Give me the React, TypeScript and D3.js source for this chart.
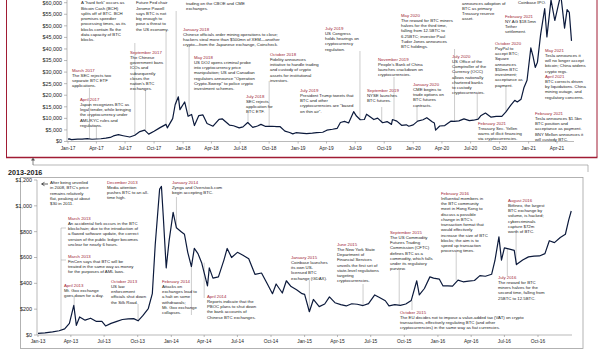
import React from 'react';
import * as d3 from 'd3';

const FONT = '"Liberation Sans", Arial, Helvetica, sans-serif';
const RED = '#a11c34';
const INK = '#1b1b1b';
const AXIS = '#8c8c8c';
const PRICE = '#0c1a3c';

// ---- 2017-2021 panel: BTC price (USD) ----
const topDates = [
  '2017-01-01','2017-01-05','2017-01-12','2017-02-01','2017-02-15','2017-03-03','2017-03-18','2017-04-01','2017-04-15','2017-05-01',
  '2017-05-15','2017-05-25','2017-06-10','2017-06-25','2017-07-16','2017-08-01','2017-08-17','2017-09-01','2017-09-14','2017-10-01',
  '2017-10-20','2017-11-08','2017-11-12','2017-11-29','2017-12-07','2017-12-17','2017-12-22','2018-01-06','2018-01-17','2018-01-28',
  '2018-02-06','2018-02-20','2018-03-05','2018-03-18','2018-04-06','2018-04-25','2018-05-05','2018-05-28','2018-06-10','2018-06-28',
  '2018-07-10','2018-07-25','2018-08-10','2018-08-25','2018-09-05','2018-09-20','2018-10-10','2018-10-25','2018-11-05','2018-11-20',
  '2018-12-05','2018-12-15','2018-12-25','2019-01-10','2019-01-28','2019-02-15','2019-03-01','2019-03-20','2019-04-02','2019-04-20',
  '2019-05-05','2019-05-15','2019-05-28','2019-06-10','2019-06-26','2019-07-05','2019-07-17','2019-07-30','2019-08-06','2019-08-29',
  '2019-09-10','2019-09-26','2019-10-10','2019-10-24','2019-10-27','2019-11-10','2019-11-25','2019-12-10','2019-12-18','2020-01-01',
  '2020-01-15','2020-02-01','2020-02-13','2020-03-01','2020-03-08','2020-03-12','2020-03-25','2020-04-10','2020-04-29','2020-05-10',
  '2020-05-25','2020-06-10','2020-06-27','2020-07-10','2020-07-25','2020-08-02','2020-08-17','2020-09-04','2020-09-20','2020-10-08',
  '2020-10-21','2020-11-05','2020-11-18','2020-11-26','2020-12-08','2020-12-17','2020-12-27','2021-01-08','2021-01-15','2021-01-22',
  '2021-01-29','2021-02-08','2021-02-21','2021-02-28','2021-03-13','2021-03-25','2021-04-05','2021-04-13','2021-04-25','2021-05-03',
  '2021-05-10','2021-05-17',
];
const topPrices = [
  1000, 1130, 800, 990, 1010, 1280, 970, 1090, 1180, 1420,
  1750, 2400, 2950, 2500, 1930, 2720, 4300, 4900, 3200, 4400,
  6000, 7400, 5900, 9900, 16000, 19300, 13800, 17100, 10900, 11700,
  6900, 11200, 11500, 7800, 6600, 9600, 9800, 7100, 6800, 5900,
  6300, 8200, 6100, 6700, 7400, 6500, 6600, 6400, 6400, 4500,
  3900, 3300, 3800, 3600, 3400, 3600, 3800, 4000, 4900, 5300,
  5700, 8200, 8700, 8000, 12900, 11000, 9400, 9500, 11800, 9500,
  10100, 8100, 8600, 7400, 9500, 8800, 7000, 7200, 6600, 7200,
  8800, 9400, 10300, 8500, 8000, 4900, 6700, 6900, 8800, 8700,
  8900, 9800, 9000, 9200, 9700, 11100, 12300, 10500, 10900, 10900,
  12800, 15600, 17800, 17100, 18300, 23200, 26500, 40500, 36800, 32000,
  34300, 46200, 57500, 45200, 61200, 52300, 58800, 63500, 49000, 57000,
  55800, 43500,
];
const topYTicks = [0, 5000, 10000, 15000, 20000, 25000, 30000, 35000, 40000, 45000, 50000, 55000, 60000];
const topXTicks = ['2017-01-01','2017-04-01','2017-07-01','2017-10-01','2018-01-01','2018-04-01','2018-07-01','2018-10-01',
  '2019-01-01','2019-04-01','2019-07-01','2019-10-01','2020-01-01','2020-04-01','2020-07-01','2020-10-01','2021-01-01','2021-04-01'];

// ---- 2013-2016 panel ----
const botDates = [
  '2013-01-01','2013-01-20','2013-02-10','2013-02-28','2013-03-15','2013-03-28','2013-04-09','2013-04-16','2013-04-25','2013-05-10',
  '2013-05-25','2013-06-10','2013-06-25','2013-07-05','2013-07-20','2013-08-05','2013-08-20','2013-09-05','2013-09-20','2013-10-02',
  '2013-10-15','2013-10-30','2013-11-10','2013-11-18','2013-11-30','2013-12-05','2013-12-10','2013-12-18','2013-12-26','2014-01-06',
  '2014-01-15','2014-01-28','2014-02-06','2014-02-15','2014-02-25','2014-03-05','2014-03-15','2014-03-25','2014-04-10','2014-04-15',
  '2014-04-25','2014-05-10','2014-05-25','2014-06-03','2014-06-15','2014-07-01','2014-07-15','2014-08-01','2014-08-18','2014-09-05',
  '2014-09-20','2014-10-05','2014-10-15','2014-11-01','2014-11-12','2014-11-25','2014-12-10','2014-12-25','2015-01-01','2015-01-14',
  '2015-01-25','2015-02-10','2015-02-25','2015-03-10','2015-03-25','2015-04-10','2015-04-25','2015-05-10','2015-05-25','2015-06-10',
  '2015-06-25','2015-07-12','2015-07-25','2015-08-10','2015-08-20','2015-09-05','2015-09-20','2015-10-05','2015-10-20','2015-11-04',
  '2015-11-11','2015-11-25','2015-12-10','2015-12-20','2016-01-05','2016-01-15','2016-01-28','2016-02-10','2016-02-25','2016-03-10',
  '2016-03-25','2016-04-10','2016-04-25','2016-05-10','2016-05-27','2016-06-05','2016-06-16','2016-06-23','2016-07-01','2016-07-15',
  '2016-07-28','2016-08-03','2016-08-20','2016-09-05','2016-09-20','2016-10-05','2016-10-20','2016-11-01','2016-11-15','2016-12-01',
  '2016-12-15','2016-12-24','2016-12-31',
];
const botPrices = [
  13, 16, 24, 33, 47, 90, 230, 75, 140, 115,
  130, 105, 105, 70, 90, 105, 120, 125, 127, 110,
  150, 205, 320, 700, 1130, 1150, 920, 520, 730, 950,
  830, 800, 780, 640, 530, 670, 630, 560, 380, 520,
  440, 450, 580, 670, 600, 640, 620, 590, 470, 480,
  400, 320, 395, 325, 420, 375, 350, 320, 315, 180,
  275, 220, 240, 295, 250, 235, 225, 242, 238, 228,
  243, 310, 290, 265, 225, 235, 230, 240, 268, 420,
  310, 360, 450, 440, 432, 380, 380, 378, 425, 412,
  417, 422, 460, 455, 470, 575, 760, 580, 675, 665,
  655, 545, 580, 605, 610, 612, 630, 730, 715, 755,
  780, 890, 960,
];
const botYTicks = [0, 200, 400, 600, 800, 1000, 1200];
const botXTicks = ['2013-01-01','2013-04-01','2013-07-01','2013-10-01','2014-01-01','2014-04-01','2014-07-01','2014-10-01',
  '2015-01-01','2015-04-01','2015-07-01','2015-10-01','2016-01-01','2016-04-01','2016-07-01','2016-10-01'];

// ---- annotations (notes whose heading sits above the picture start with their first visible line) ----
const topNotes = [
  { title: '', lines: ['A "hard fork" occurs as', 'Bitcoin Cash (BCH)', 'splits off of BTC. BCH', 'promises speedier', 'processing times, as its', 'blocks contain 8x the', 'data capacity of BTC', 'blocks.'] },
  { title: 'March 2017', lines: ['The SEC rejects two', 'separate BTC ETF', 'applications.'] },
  { title: 'April 2017', lines: ['Japan recognizes BTC as', 'legal tender, while bringing', 'the cryptocurrency under', 'AML/KYC rules and', 'regulations.'] },
  { title: 'September 2017', lines: ['The Chinese', 'government bans', 'ICOs and', 'subsequently', 'closes the', "nation's BTC", 'exchanges.'] },
  { title: '', lines: ['Future Fed chair', 'Jerome Powell', 'says BTC is not', 'big enough to', 'pose a threat to', 'the US economy.'] },
  { title: '', lines: ['trading on the CBOE and CME', 'exchanges.'] },
  { title: 'January 2018', lines: ['Chinese officials order mining operations to close;', 'hackers steal more than $500mn of XEM\u2014another', 'crypto\u2014from the Japanese exchange, Coincheck.'] },
  { title: 'May 2018', lines: ['US DOJ opens criminal probe', 'into cryptocurrency price', 'manipulation; US and Canadian', 'regulators announce "Operation', 'Crypto-Sweep" to police crypto', 'investment schemes.'] },
  { title: 'July 2018', lines: ['SEC rejects', 'application for', 'BTC ETF.'] },
  { title: 'October 2018', lines: ['Fidelity announces', 'initiative to handle trading', 'and custody of crypto', 'assets for institutional', 'investors.'] },
  { title: 'July 2019', lines: ['US Congress', 'holds hearings on', 'cryptocurrency', 'regulation.'] },
  { title: 'July 2019', lines: ['President Trump tweets that', 'BTC and other', 'cryptocurrencies are "based', 'on thin air".'] },
  { title: 'September 2019', lines: ['NYSE launches', 'BTC futures.'] },
  { title: 'November 2019', lines: ["People's Bank of China", 'launches crackdown on', 'cryptocurrencies.'] },
  { title: 'May 2020', lines: ['The reward for BTC miners', 'halves for the third time,', 'falling from 12.5BTC to', '6.25BTC; investor Paul', 'Tudor Jones announces', 'BTC holdings.'] },
  { title: 'January 2020', lines: ['CME begins to', 'trade options on', 'BTC futures', 'contracts.'] },
  { title: 'July 2020', lines: ['US Office of the', 'Comptroller of the', 'Currency (OCC)', 'allows nationally', 'chartered banks', 'to custody', 'cryptocurrencies.'] },
  { title: '', lines: ['announces adoption of', 'BTC as primary', 'Treasury reserve', 'asset.'] },
  { title: 'October 2020', lines: ['PayPal to', 'accept BTC;', 'Square', 'announces', '$50mn BTC', 'investment;', 'acceptance as', 'payment.'] },
  { title: 'February 2021', lines: ['NY AG $18.5mn', 'Tether', 'settlement.'] },
  { title: 'May 2021', lines: ['Tesla announces it', 'will no longer accept', 'bitcoin; China widens', 'crypto regs.'] },
  { title: 'April 2021', lines: ['BTC corrects driven', 'by liquidations. China', 'mining outage, and', 'regulatory concerns.'] },
  { title: 'February 2021', lines: ['Treasury Sec. Yellen', 'warns of illicit financing', 'via cryptocurrencies.'] },
  { title: 'February 2021', lines: ['Tesla announces $1.5bn', 'BTC position and', 'acceptance as payment.', 'BNY Mellon announces it', 'will custody BTC.'] },
  { title: '', lines: ['Coinbase IPO.'] },
];
// [x, first baseline y]
const topNoteAt = [
  [81, 4.3], [72, 71.5], [80, 100.5], [130, 53.5], [136, 4.3], [186, 4.6], [183, 30.5], [194, 58.5], [246, 97.5], [270, 55.5],
  [325, 29.5], [300, 91.5], [367, 91.5], [378, 60.5], [401, 16.5], [413, 85.5], [452, 57.5], [462, 4.6], [495, 44.5], [505, 17.5],
  [545, 51.5], [545, 77.5], [478, 124.5], [535, 114.5], [518, 4],
];

const botNotes = [
  { title: '', lines: ['After being unveiled', "in 2008, BTC's price", 'remains relatively', 'flat, peaking at about', '$30 in 2011.'] },
  { title: 'December 2013', lines: ['Media attention', 'pushes BTC to an all-', 'time high.'] },
  { title: 'January 2014', lines: ['Zynga and Overstock.com', 'begin accepting BTC.'] },
  { title: 'March 2013', lines: ['An accidental fork occurs in the BTC', 'blockchain; due to the introduction of', 'a flawed software update, the correct', 'version of the public ledger becomes', 'unclear for nearly 6 hours.'] },
  { title: 'March 2013', lines: ['FinCen says that BTC will be', 'treated in the same way as money', 'for the purposes of AML laws.'] },
  { title: 'April 2013', lines: ['Mt. Gox exchange', 'goes down for a day.'] },
  { title: 'October 2013', lines: ['US law', 'enforcement', 'officials shut down', 'the Silk Road.'] },
  { title: 'February 2014', lines: ['Attacks on', 'exchanges lead to', 'a halt on some', 'withdrawals;', 'Mt. Gox exchange', 'collapses.'] },
  { title: 'April 2014', lines: ['Reports indicate that the', 'PBOC plans to shut down', 'the bank accounts of', 'Chinese BTC exchanges.'] },
  { title: 'January 2015', lines: ['Coinbase launches', 'its own US-', 'licensed BTC', 'exchange (GDAX).'] },
  { title: 'June 2015', lines: ['The New York State', 'Department of', 'Financial Services', 'unveils the first set of', 'state-level regulations', 'targeting', 'cryptocurrencies.'] },
  { title: 'September 2015', lines: ['The US Commodity', 'Futures Trading', 'Commission (CFTC)', 'defines BTC as a', 'commodity, which falls', 'under its regulatory', 'purview.'] },
  { title: 'February 2016', lines: ['Influential members in', 'the BTC community', 'meet in Hong Kong to', 'discuss a possible', "change in BTC's", 'transaction format that', 'would effectively', 'increase the size of BTC', 'blocks; the aim is to', 'speed up transaction', 'processing times.'] },
  { title: 'August 2016', lines: ['Bitfinex, the largest', 'BTC exchange by', 'volume, is hacked;', 'cybercriminals', 'capture $72m', 'worth of BTC.'] },
  { title: 'July 2016', lines: ['The reward for BTC', 'miners halves for the', 'second time, falling from', '25BTC to 12.5BTC.'] },
  { title: 'October 2015', lines: ['The EU decides not to impose a value-added tax (VAT) on crypto', 'transactions, effectively regulating BTC (and other', 'cryptocurrencies) in the same way as fiat currencies.'] },
];
const botNoteAt = [
  [50, 184], [107, 183.5], [172, 183.5], [68, 219.5], [68, 257.5], [64, 286.5], [111, 282.5], [162, 282.5], [207, 297.5], [291, 258.5],
  [337, 245.5], [390, 233.5], [441, 194.5], [508, 201.5], [498, 278.5], [400, 313.5],
];

// leader lines: [event date, y where the leader leaves the note]
const topLeaders = [
  ['2017-03-10', 88], ['2017-04-01', 126], ['2017-08-01', 43], ['2017-09-04', 90], ['2017-11-08', 32],
  ['2017-12-10', 11], ['2018-01-20', 46], ['2018-07-26', 113], ['2018-10-01', 81], ['2019-07-16', 51],
  ['2019-09-23', 107], ['2019-11-01', 77], ['2020-01-13', 106], ['2020-05-11', 49], ['2020-07-22', 93],
  ['2020-10-21', 86], ['2021-02-09', 34],
];
const botLeaders = [
  ['2013-04-10', 296], ['2013-10-02', 304], ['2014-01-15', 197], ['2014-02-25', 315],
  ['2014-04-01', 298], ['2015-01-14', 280], ['2015-06-10', 284], ['2015-09-17', 270], ['2015-10-22', 310],
  ['2016-02-20', 252], ['2016-07-09', 276], ['2016-08-02', 232],
];

const LH = 5.25;
const FS = 4.3;

const parse = d3.timeParse('%Y-%m-%d');
const fmt = d3.timeFormat('%b-%y');

function Note({ x, y, title, lines }: { x: number; y: number; title: string; lines: string[] }) {
  const rows = title ? lines : lines.slice(1);
  return (
    <text x={x} y={y} fontSize={FS} fill={INK} fontFamily={FONT}>
      <tspan fill={title ? RED : INK}>{title || lines[0]}</tspan>
      {rows.map((l, i) => (
        <tspan key={i} x={x} dy={LH}>{l}</tspan>
      ))}
    </text>
  );
}

function priceAt(dates: Date[], values: number[], d: Date) {
  const i = d3.bisector((v: Date) => v).center(dates, d);
  return values[i];
}

export default function App() {
  const tD = topDates.map(parse) as Date[];
  const bD = botDates.map(parse) as Date[];

  const tx = d3.scaleTime().domain([parse('2017-01-01')!, parse('2021-04-01')!]).range([68, 557]);
  const ty = d3.scaleLinear().domain([0, 60000]).range([141.5, 2.7]);
  const bx = d3.scaleTime().domain([parse('2013-01-01')!, parse('2016-10-01')!]).range([38, 538]);
  const by = d3.scaleLinear().domain([0, 1200]).range([335, 180]);

  const topLine = d3.line<number>().x((_, i) => tx(tD[i])).y((v) => ty(v));
  const botLine = d3.line<number>().x((_, i) => bx(bD[i])).y((v) => by(v));
  const money = d3.format('$,');

  // bracket for the two March 2013 notes
  const marX = bx(parse('2013-03-05')!);
  const marY = by(priceAt(bD, botPrices, parse('2013-03-05')!));

  return (
    <svg width={600} height={354} viewBox="0 0 600 354"
      style={{ position: 'absolute', left: 0, top: 0, background: '#fff' }} fontFamily={FONT}>
      <rect x={0} y={0} width={600} height={354} fill="#fff" />

      {/* ---- top panel frame ---- */}
      <line x1={6.5} y1={0} x2={6.5} y2={157} stroke={RED} strokeWidth={1} />
      <line x1={597} y1={0} x2={597} y2={157} stroke={RED} strokeWidth={1} />
      <line x1={6} y1={157.5} x2={597.5} y2={157.5} stroke={RED} strokeWidth={1.6} />

      {/* top axes */}
      <line x1={67} y1={0} x2={67} y2={141.5} stroke={AXIS} strokeWidth={0.6} />
      <line x1={67} y1={141.5} x2={574} y2={141.5} stroke={AXIS} strokeWidth={0.6} />
      {topYTicks.map((t) => (
        <g key={t}>
          <line x1={64} x2={67} y1={ty(t)} y2={ty(t)} stroke={AXIS} strokeWidth={0.6} />
          <text x={62} y={ty(t) + 1.9} fontSize={5.4} textAnchor="end" fill={INK}>{money(t)}</text>
        </g>
      ))}
      {topXTicks.map((s) => {
        const d = parse(s)!;
        return (
          <g key={s}>
            <line x1={tx(d)} x2={tx(d)} y1={141.5} y2={143.5} stroke={AXIS} strokeWidth={0.6} />
            <text x={tx(d)} y={149.5} fontSize={4.8} textAnchor="middle" fill={INK}>{fmt(d)}</text>
          </g>
        );
      })}

      {/* top leaders */}
      {topLeaders.map(([s, y0], i) => {
        const d = parse(s as string)!;
        const yl = ty(priceAt(tD, topPrices, d));
        return <line key={i} x1={tx(d)} x2={tx(d)} y1={y0 as number} y2={yl} stroke="#9a9a9a" strokeWidth={0.5} />;
      })}

      <path d={topLine(topPrices) || ''} fill="none" stroke={PRICE} strokeWidth={1.2} strokeLinejoin="round" />

      {topNotes.map((n, i) => (
        <Note key={i} x={topNoteAt[i][0]} y={topNoteAt[i][1]} title={n.title} lines={n.lines} />
      ))}

      {/* connector between panels */}
      <path d="M33,165 H588 V172" fill="none" stroke="#9a9a9a" strokeWidth={0.7} />
      <path d="M33,165 V159" fill="none" stroke="#555" strokeWidth={0.7} />
      <path d="M31,160.5 L33,157.5 L35,160.5 Z" fill="#555" />

      <text x={8} y={175} fontSize={7.2} fontWeight="bold" fill={INK}>2013-2016</text>

      {/* ---- bottom panel ---- */}
      <rect x={20.5} y={177.5} width={562.5} height={171} fill="none" stroke="#a0a0a0" strokeWidth={0.8} />
      <line x1={37} y1={180} x2={37} y2={335} stroke={AXIS} strokeWidth={0.6} />
      <line x1={37} y1={335} x2={572} y2={335} stroke={AXIS} strokeWidth={0.6} />
      {botYTicks.map((t) => (
        <g key={t}>
          <line x1={34} x2={37} y1={by(t)} y2={by(t)} stroke={AXIS} strokeWidth={0.6} />
          <text x={32} y={by(t) + 1.9} fontSize={5.4} textAnchor="end" fill={INK}>{money(t)}</text>
        </g>
      ))}
      {botXTicks.map((s) => {
        const d = parse(s)!;
        return (
          <g key={s}>
            <line x1={bx(d)} x2={bx(d)} y1={335} y2={337} stroke={AXIS} strokeWidth={0.6} />
            <text x={bx(d)} y={342.5} fontSize={4.8} textAnchor="middle" fill={INK}>{fmt(d)}</text>
          </g>
        );
      })}
      <path d="M48,184 H42 M44.5,182.3 L41.5,184 L44.5,185.7" fill="none" stroke={INK} strokeWidth={0.7} />

      <path d={`M66,228 H${marX} V${marY} M${marX},260 H66`} fill="none" stroke="#9a9a9a" strokeWidth={0.5} />
      {botLeaders.map(([s, y0], i) => {
        const d = parse(s as string)!;
        const yl = by(priceAt(bD, botPrices, d));
        return <line key={i} x1={bx(d)} x2={bx(d)} y1={y0 as number} y2={yl} stroke="#9a9a9a" strokeWidth={0.5} />;
      })}

      <path d={botLine(botPrices) || ''} fill="none" stroke={PRICE} strokeWidth={1.2} strokeLinejoin="round" />

      {botNotes.map((n, i) => (
        <Note key={i} x={botNoteAt[i][0]} y={botNoteAt[i][1]} title={n.title} lines={n.lines} />
      ))}
    </svg>
  );
}
